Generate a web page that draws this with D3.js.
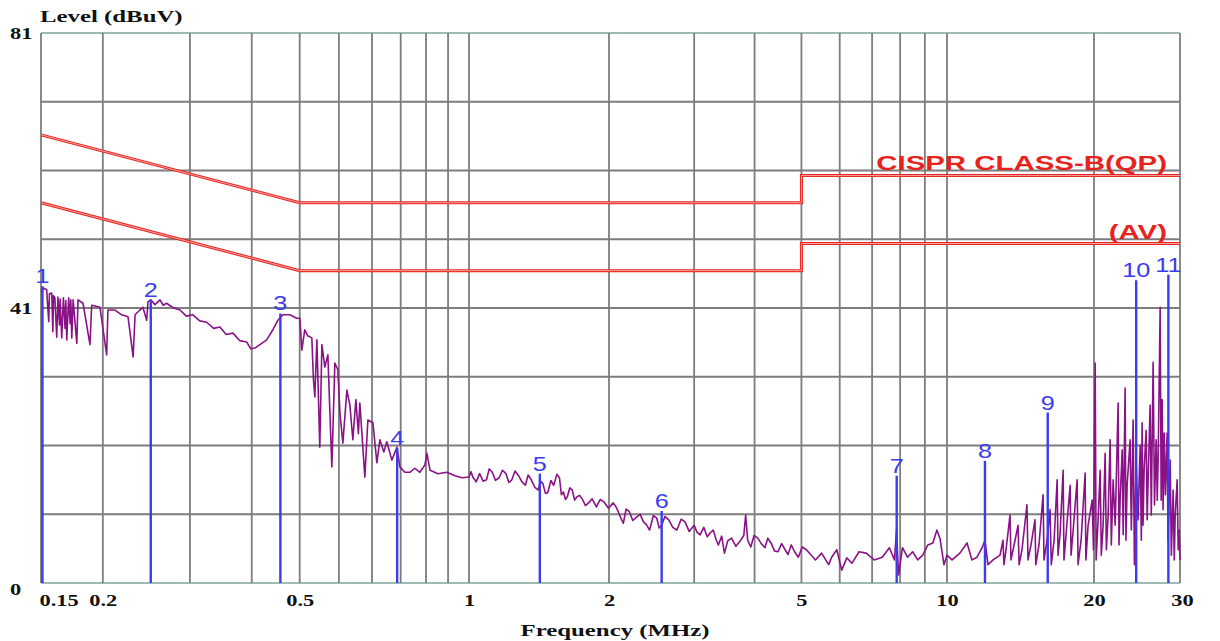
<!DOCTYPE html>
<html>
<head>
<meta charset="utf-8">
<script src="https://cdn.jsdelivr.net/npm/d3@7"></script>
<style>
  body { margin: 0; background: #fff; }
  .axisTitle { font-family: "Liberation Serif", serif; font-weight: bold; font-size: 16px; fill: #111; }
  .tickText { font-family: "Liberation Serif", serif; font-weight: bold; font-size: 16px; fill: #111; }
  .limitText { font-family: "Liberation Sans", Arial, sans-serif; font-weight: bold; font-size: 21px; fill: #e8231e; }
  .markerText { font-family: "Liberation Sans", Arial, sans-serif; font-size: 21px; fill: #3b3bf0; }
</style>
</head>
<body>
<div id="chart"></div>
<script>
// chart values
var gridFreqs = [0.15, 0.2, 0.3, 0.4, 0.5, 0.6, 0.7, 0.8, 0.9, 0.95, 1, 2, 3, 4, 5, 6, 7, 8, 9, 10, 20, 30];
var xTickValues = [0.15, 0.2, 0.5, 1, 2, 5, 10, 20, 30];
var xTickLabels = ["0.15", "0.2", "0.5", "1", "2", "5", "10", "20", "30"];
var yTickValues = [0, 40.5, 81];
var yTickLabels = ["0", "41", "81"];

// CISPR class B limits
var limitFreq = [0.15, 0.5, 5, 5, 30];
var qpLimit = [66, 56, 56, 60, 60];
var avLimit = [56, 46, 46, 50, 50];

// marker readings
var markerNo = ["1", "2", "3", "4", "5", "6", "7", "8", "9", "10", "11"];
var markerFreq = [0.151, 0.25, 0.457, 0.787, 1.42, 2.57, 7.87, 11.96, 16.08, 24.4, 28.4];
var markerLevel = [43.7, 41.7, 39.7, 19.9, 16.1, 10.6, 15.8, 18.0, 25.1, 44.6, 45.4];

// measured spectrum (MHz / dBuV), one pair of arrays per band
var lowFreq = [
  0.150, 0.152, 0.154, 0.1555, 0.156, 0.1577, 0.1585, 0.159, 0.160, 0.1614,
  0.1623, 0.1635, 0.164, 0.1652, 0.1665, 0.1678, 0.1684, 0.1691, 0.1706, 0.1718,
  0.1723, 0.1731, 0.1742, 0.1772, 0.1782, 0.1824, 0.1884, 0.1899, 0.1974, 0.2036,
  0.2048, 0.2117, 0.2183, 0.2249, 0.2303, 0.2324, 0.2377, 0.2410, 0.2453, 0.2468,
  0.250, 0.255, 0.261, 0.265, 0.269, 0.278, 0.2864, 0.295, 0.3042, 0.314,
  0.3242, 0.335, 0.3449, 0.355, 0.3665, 0.378, 0.3906, 0.398, 0.4059, 0.4155,
  0.4287, 0.4414, 0.4518, 0.4624, 0.4776, 0.4929
];
var lowLevel = [
  42.9, 43.4, 43.2, 38.5, 42.6, 42.7, 37.0, 42.3, 42.0, 36.2,
  42.1, 38.0, 41.8, 36.1, 42.0, 37.5, 41.6, 35.8, 42.0, 38.2,
  41.7, 36.1, 41.7, 35.3, 41.7, 41.2, 35.1, 40.9, 40.6, 33.6,
  40.2, 40.2, 39.5, 39.2, 33.3, 39.5, 40.2, 40.6, 38.7, 41.4,
  41.7, 41.0, 41.7, 40.9, 41.2, 40.5, 40.2, 39.3, 39.5, 38.6,
  38.4, 37.5, 37.7, 36.6, 36.8, 35.7, 35.5, 34.5, 34.6, 35.1,
  35.8, 37.3, 38.7, 39.5, 39.5, 39.0
];

var midFreq = [
  0.5004, 0.505, 0.512, 0.519, 0.529, 0.533, 0.5365, 0.5416, 0.549, 0.5544,
  0.562, 0.570, 0.5807, 0.5889, 0.5972, 0.603, 0.6112, 0.6228, 0.6315, 0.6403,
  0.6494, 0.657, 0.6615, 0.6771, 0.6867, 0.7029, 0.7161, 0.726, 0.7397, 0.75,
  0.7677, 0.786, 0.797, 0.8157, 0.835, 0.8545, 0.8747, 0.8954, 0.902, 0.909,
  0.927, 0.9475, 0.966, 0.983, 1.0, 1.01, 1.019, 1.036, 1.054, 1.072,
  1.0906, 1.105, 1.1225, 1.14, 1.161, 1.18, 1.201, 1.218, 1.236, 1.256,
  1.278, 1.30, 1.322, 1.34, 1.361, 1.385, 1.408, 1.425, 1.442, 1.46,
  1.477, 1.50, 1.521, 1.545, 1.565, 1.58, 1.596, 1.612, 1.627, 1.647,
  1.667, 1.687, 1.707, 1.73, 1.757, 1.78, 1.808, 1.84, 1.879, 1.915,
  1.953, 1.995
];
var midLevel = [
  39.0, 34.3, 37.3, 36.4, 36.1, 30.0, 27.4, 35.8, 20.0, 35.1,
  31.8, 33.6, 17.1, 32.4, 31.4, 25.0, 20.6, 28.4, 26.2, 21.1,
  27.0, 22.0, 26.5, 15.6, 24.0, 23.6, 17.7, 21.1, 19.3, 20.8,
  18.1, 20.0, 17.1, 16.3, 16.3, 16.9, 16.3, 17.4, 19.1, 16.6,
  16.1, 16.3, 15.8, 15.5, 15.6, 16.4, 15.6, 14.9, 16.1, 15.0,
  15.2, 16.8, 16.3, 15.1, 15.5, 16.6, 16.1, 14.8, 15.2, 16.5,
  15.8, 14.9, 14.4, 15.9, 15.2, 14.1, 13.7, 15.0, 14.6, 13.2,
  13.3, 15.1, 14.4, 16.0, 15.5, 13.0, 13.4, 12.3, 12.7, 14.0,
  13.7, 12.2, 12.7, 12.9, 12.2, 11.4, 11.8, 12.4, 11.2, 12.3,
  11.9, 11.0
];

var hiFreq = [
  2.040, 2.065, 2.090, 2.115, 2.141, 2.17, 2.203, 2.24, 2.280, 2.32,
  2.357, 2.39, 2.426, 2.47, 2.509, 2.54, 2.570, 2.61, 2.659, 2.71,
  2.763, 2.82, 2.872, 2.93, 3.000, 3.04, 3.087, 3.14, 3.193, 3.24,
  3.286, 3.33, 3.367, 3.42, 3.465, 3.52, 3.584, 3.66, 3.744, 3.80,
  3.834, 3.871, 3.928, 3.99, 4.062, 4.13, 4.202, 4.26, 4.325, 4.40,
  4.473, 4.55, 4.627, 4.69, 4.763, 4.84, 4.926, 5.02, 5.119, 5.346,
  5.503, 5.692, 5.773, 5.916, 6.058, 6.206, 6.358, 6.577, 6.803, 7.07,
  7.346, 7.6, 7.788, 7.863, 7.94, 8.09, 8.286, 8.49, 8.697, 8.908,
  9.127, 9.349, 9.531, 9.67, 9.856, 10.0, 10.24, 10.63, 10.99, 11.25,
  11.52, 11.8, 11.96, 12.13, 12.43
];
var hiLevel = [
  11.8, 11.3, 10.5, 9.6, 8.8, 10.9, 10.5, 9.2, 9.7, 10.1,
  9.0, 8.6, 7.8, 9.9, 9.6, 8.1, 8.5, 9.8, 9.3, 8.2,
  7.8, 9.4, 9.0, 7.6, 8.5, 7.5, 7.1, 8.2, 6.8, 7.4,
  7.8, 6.4, 5.6, 6.9, 4.4, 6.2, 6.6, 5.4, 6.3, 7.0,
  10.0, 6.3, 5.3, 7.0, 6.6, 5.8, 5.2, 6.6, 5.9, 4.7,
  4.6, 5.8, 4.9, 4.2, 5.6, 4.6, 3.8, 5.3, 4.9, 3.4,
  4.4, 2.7, 3.8, 4.9, 1.9, 3.7, 2.9, 4.6, 4.4, 3.4,
  3.8, 5.2, 3.4, 7.8, 1.2, 5.2, 3.8, 4.6, 3.4, 4.1,
  5.6, 5.9, 7.8, 6.6, 2.7, 4.1, 3.4, 4.4, 5.9, 3.4,
  3.8, 5.2, 6.3, 2.7, 3.4
];

var topFreq = [
  12.84, 13.02, 13.08, 13.21, 13.46, 13.52, 13.72, 13.98, 14.05, 14.24,
  14.58, 14.65, 14.86, 15.14, 15.2, 15.43, 15.73, 15.8, 16.03, 16.26,
  16.35, 16.57, 16.81, 16.88, 17.04, 17.29, 17.36, 17.53, 17.87, 17.95,
  18.13, 18.47, 18.55, 18.82, 19.18, 19.25, 19.45, 19.83, 19.95, 20.11,
  20.2, 20.39, 20.59, 20.7, 20.88, 21.08, 21.2, 21.38, 21.58, 21.7,
  21.89, 22.1, 22.41, 22.5, 22.62, 22.84, 22.95, 23.16, 23.25, 23.38,
  23.71, 23.85, 24.05, 24.2, 24.39, 24.62, 24.86, 25.0, 25.09, 25.2,
  25.33, 25.57, 25.7, 25.81, 26.06, 26.2, 26.43, 26.6, 26.81, 26.95,
  27.06, 27.32, 27.45, 27.58, 27.7, 27.84, 28.0, 28.23, 28.35, 28.64,
  28.8, 29.05, 29.2, 29.33, 29.6, 29.75, 29.88, 30.0
];
var topLevel = [
  4.1, 6.3, 2.7, 4.9, 10.0, 3.4, 5.6, 8.5, 2.7, 4.9,
  11.5, 3.4, 5.6, 9.3, 2.7, 5.6, 13.0, 3.4, 6.3, 10.8,
  2.7, 6.3, 15.2, 4.1, 7.1, 16.6, 3.4, 7.1, 14.4, 4.1,
  7.8, 15.2, 2.7, 6.3, 16.2, 3.4, 8.5, 12.2, 4.9, 32.4,
  3.4, 9.3, 16.6, 4.1, 8.5, 19.1, 4.9, 10.0, 21.1, 5.6,
  15.2, 8.5, 26.5, 5.6, 12.2, 19.6, 7.1, 28.7, 6.3, 14.4,
  21.1, 7.8, 24.0, 2.7, 18.1, 9.3, 20.3, 6.3, 23.6, 8.5,
  16.6, 22.5, 9.3, 15.2, 26.2, 10.0, 32.5, 11.5, 21.1, 12.2,
  18.1, 40.6, 12.2, 27.0, 10.8, 22.1, 13.0, 22.1, 6.3, 18.1,
  4.1, 13.7, 3.4, 10.0, 15.2, 4.9, 7.8, 3.4
];

var svgWidth = 1220;
var svgHeight = 641;

var margin = {
  top: 33,
  right: 40,
  bottom: 58,
  left: 41
};

var width = svgWidth - margin.left - margin.right;
var height = svgHeight - margin.top - margin.bottom;

var svg = d3.select("#chart")
  .append("svg")
  .attr("width", svgWidth)
  .attr("height", svgHeight);

var chartGroup = svg.append("g")
  .attr("transform", `translate(${margin.left}, ${margin.top})`);

// the frequency axis of this plot is not a clean log scale, so it is split into pieces
var xLogScale = d3.scaleLog()
  .domain([0.15, 0.9, 1, 2, 10, 30])
  .range([0, 385, 428, 568, 906, width]);

var yLinearScale = d3.scaleLinear()
  .domain([0, 81])
  .range([height, 0]);

// stretch text sideways like in the original screenshot
function stretch(selection, k) {
  selection.each(function() {
    var w = this.getComputedTextLength();
    d3.select(this)
      .attr("textLength", w * k)
      .attr("lengthAdjust", "spacingAndGlyphs");
  });
}

// grid
var yGridValues = d3.range(9).map(i => i * 81 / 8);

chartGroup.append("g")
  .selectAll("line")
  .data(yGridValues)
  .enter()
  .append("line")
  .attr("x1", 0)
  .attr("x2", width)
  .attr("y1", d => yLinearScale(d))
  .attr("y2", d => yLinearScale(d))
  .attr("stroke", d => (d == 0 || d == 81) ? "#7fa398" : "#7d7d7d")
  .attr("stroke-width", d => (d == 0 || d == 81) ? 1.5 : 1.8);

chartGroup.append("g")
  .selectAll("line")
  .data(gridFreqs)
  .enter()
  .append("line")
  .attr("x1", d => xLogScale(d))
  .attr("x2", d => xLogScale(d))
  .attr("y1", 0)
  .attr("y2", height)
  .attr("stroke", "#7d7d7d")
  .attr("stroke-width", 1.8);

// limit lines
var limitLine = d3.line()
  .x(d => xLogScale(d[0]))
  .y(d => yLinearScale(d[1]));

[qpLimit, avLimit].forEach(function(lim) {
  var pts = d3.zip(limitFreq, lim);
  chartGroup.append("path")
    .attr("d", limitLine(pts))
    .attr("fill", "none")
    .attr("stroke", "#e8231e")
    .attr("stroke-width", 3);
  chartGroup.append("path")
    .attr("d", limitLine(pts))
    .attr("fill", "none")
    .attr("stroke", "#f7b3b0")
    .attr("stroke-width", 0.9);
});

chartGroup.append("text")
  .attr("class", "limitText")
  .attr("text-anchor", "end")
  .attr("x", width - 13)
  .attr("y", yLinearScale(60) - 6)
  .text("CISPR CLASS-B(QP)")
  .call(stretch, 1.4);

chartGroup.append("text")
  .attr("class", "limitText")
  .attr("text-anchor", "end")
  .attr("x", width - 13)
  .attr("y", yLinearScale(50) - 4)
  .text("(AV)")
  .call(stretch, 1.4);

// spectrum trace
var traceData = d3.zip(
  lowFreq.concat(midFreq, hiFreq, topFreq),
  lowLevel.concat(midLevel, hiLevel, topLevel)
);

chartGroup.append("path")
  .attr("d", d3.line()
    .x(d => xLogScale(d[0]))
    .y(d => yLinearScale(d[1]))(traceData))
  .attr("fill", "none")
  .attr("stroke", "#8a1287")
  .attr("stroke-width", 1.6)
  .attr("stroke-linejoin", "round");

// markers
var markerData = d3.zip(markerNo, markerFreq, markerLevel);

chartGroup.selectAll(".marker")
  .data(markerData)
  .enter()
  .append("line")
  .attr("class", "marker")
  .attr("x1", d => xLogScale(d[1]))
  .attr("x2", d => xLogScale(d[1]))
  .attr("y1", yLinearScale(0))
  .attr("y2", d => yLinearScale(d[2]))
  .attr("stroke", "#3b3bf0")
  .attr("stroke-width", 2.4);

chartGroup.selectAll(".markerText")
  .data(markerData)
  .enter()
  .append("text")
  .attr("class", "markerText")
  .attr("text-anchor", "middle")
  .attr("x", d => xLogScale(d[1]))
  .attr("y", d => yLinearScale(d[2]) - 3)
  .text(d => d[0])
  .call(stretch, 1.2);

// axis labels
var bottomAxis = d3.axisBottom(xLogScale)
  .tickValues(xTickValues)
  .tickFormat((d, i) => xTickLabels[i])
  .tickSize(0)
  .tickPadding(12);

var xAxisGroup = chartGroup.append("g")
  .attr("transform", `translate(0, ${height})`)
  .call(bottomAxis);

xAxisGroup.select(".domain").remove();
xAxisGroup.selectAll("text")
  .attr("class", "tickText")
  .attr("font-family", null)
  .attr("font-size", null)
  .attr("fill", null)
  .attr("text-anchor", (d, i) => i == 0 ? "start" : "middle")
  .attr("dx", (d, i) => i == 0 ? -2 : (i == xTickValues.length - 1 ? 2 : 0))
  .call(stretch, 1.4);

chartGroup.selectAll(".yLabel")
  .data(yTickValues)
  .enter()
  .append("text")
  .attr("class", "tickText")
  .attr("x", 10 - margin.left)
  .attr("y", d => yLinearScale(d) + (d == 0 ? 12 : 6))
  .text((d, i) => yTickLabels[i])
  .call(stretch, 1.4);

svg.append("text")
  .attr("class", "axisTitle")
  .attr("x", 40)
  .attr("y", 22)
  .text("Level (dBuV)")
  .call(stretch, 1.55);

svg.append("text")
  .attr("class", "axisTitle")
  .attr("text-anchor", "middle")
  .attr("x", 615)
  .attr("y", 636)
  .text("Frequency (MHz)")
  .call(stretch, 1.55);
</script>
</body>
</html>
